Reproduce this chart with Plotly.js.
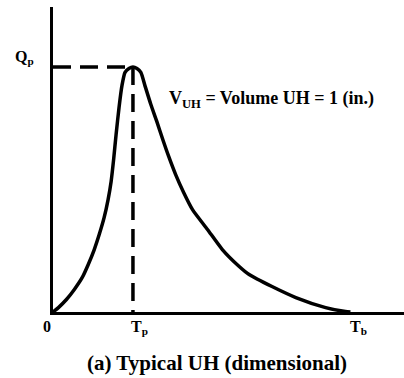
<!DOCTYPE html>
<html>
<head>
<meta charset="utf-8">
<script src="https://cdn.plot.ly/plotly-3.0.1.min.js"></script>
<style>html,body{margin:0;padding:0;background:#fff;}#chart{width:404px;height:378px;}</style>
</head>
<body>
<div id="chart"></div>
<script>
// Dimensionless reading of the unit hydrograph (time in units of Tp, flow in units of Qp)
var tp = 1.0;
var tb = 3.7;
var qp = 1.0;
var timeValues = [0, 0.068, 0.168, 0.267, 0.366, 0.441, 0.516, 0.578, 0.640, 0.689, 0.727, 0.758, 0.789, 0.826, 0.863, 0.901, 0.950, 1.0,
                  1.050, 1.099, 1.149, 1.224, 1.298, 1.373, 1.447, 1.534, 1.634, 1.745, 1.932, 2.118, 2.329, 2.453, 2.739, 3.037, 3.410, 3.658, 3.72];
var flowValues = [0, 0.018, 0.051, 0.092, 0.141, 0.194, 0.255, 0.316, 0.386, 0.459, 0.533, 0.622, 0.724, 0.835, 0.925, 0.978, 0.994, 1.0,
                  0.994, 0.978, 0.925, 0.847, 0.778, 0.704, 0.635, 0.561, 0.488, 0.418, 0.337, 0.255, 0.186, 0.153, 0.104, 0.059, 0.018, 0.002, 0];
var tickLabels = ['0', 'T<sub>p</sub>', 'T<sub>b</sub>'];
var peakLabel = 'Q<sub>p</sub>';
var volumeText = 'V<sub>UH</sub> = Volume UH = 1 (in.)';
var captionText = '(a) Typical UH (dimensional)';

var font = {family: '"Liberation Serif", "Times New Roman", serif', color: '#000', weight: 'bold'};
function f(size) { return Object.assign({size: size}, font); }

var traces = [
  {x: [0, tp], y: [qp, qp], mode: 'lines', line: {color: '#000', width: 3.5, dash: '18px,9px'}, hoverinfo: 'skip'},
  {x: [tp, tp], y: [qp, 0], mode: 'lines', line: {color: '#000', width: 3.5, dash: '18px,9px'}, hoverinfo: 'skip'},
  {x: timeValues, y: flowValues, mode: 'lines', line: {color: '#000', width: 3.5, shape: 'spline', smoothing: 0.6}, hoverinfo: 'skip'}
];

var layout = {
  width: 404, height: 378,
  margin: {l: 53, r: 0, t: 7, b: 66, pad: 0},
  paper_bgcolor: '#fff', plot_bgcolor: '#fff',
  showlegend: false,
  font: {family: '"Liberation Serif", serif'},
  xaxis: {range: [0, 4.39], showline: true, linewidth: 3, linecolor: '#000', showgrid: false, zeroline: false, showticklabels: false, ticks: ''},
  yaxis: {range: [0, 1.245], showline: true, linewidth: 3, linecolor: '#000', showgrid: false, zeroline: false, showticklabels: false, ticks: ''},
  annotations: [
    {xref: 'paper', yref: 'paper', x: -0.080, y: 0.833, xanchor: 'center', yanchor: 'middle', text: peakLabel, showarrow: false, font: f(16)},
    {xref: 'paper', yref: 'paper', x: -0.017, y: -0.049, xanchor: 'center', yanchor: 'middle', text: tickLabels[0], showarrow: false, font: f(16)},
    {xref: 'x', yref: 'paper', x: tp, xshift: 7, y: -0.052, xanchor: 'center', yanchor: 'middle', text: tickLabels[1], showarrow: false, font: f(16)},
    {xref: 'x', yref: 'paper', x: tb, xshift: 10, y: -0.052, xanchor: 'center', yanchor: 'middle', text: tickLabels[2], showarrow: false, font: f(16)},
    {xref: 'paper', yref: 'paper', x: 0.325, y: 0.698, xanchor: 'left', yanchor: 'middle', text: volumeText, showarrow: false, font: f(18)},
    {xref: 'paper', yref: 'paper', x: 0.467, y: -0.167, xanchor: 'center', yanchor: 'middle', text: captionText, showarrow: false, font: f(21)}
  ]
};

Plotly.newPlot('chart', traces, layout, {staticPlot: true, displayModeBar: false});
</script>
</body>
</html>
